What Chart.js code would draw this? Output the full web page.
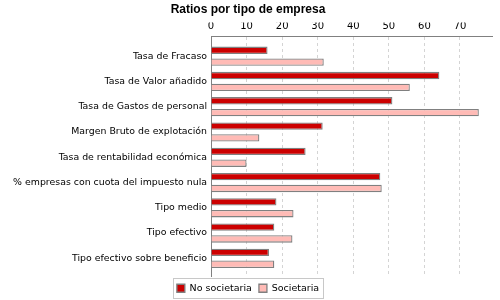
<!DOCTYPE html>
<html><head><meta charset="utf-8">
<script src="https://cdn.jsdelivr.net/npm/chart.js@4/dist/chart.umd.min.js"></script>
<style>html,body{margin:0;padding:0;background:#fff}</style>
</head><body>
<canvas id="c" width="500" height="300"></canvas>
<script>
const categories = [
  'Tasa de Fracaso',
  'Tasa de Valor añadido',
  'Tasa de Gastos de personal',
  'Margen Bruto de explotación',
  'Tasa de rentabilidad económica',
  '% empresas con cuota del impuesto nula',
  'Tipo medio',
  'Tipo efectivo',
  'Tipo efectivo sobre beneficio'
];
const noSocietaria = [15.9, 64.2, 51.0, 31.4, 26.6, 47.6, 18.4, 17.8, 16.3];
const societaria   = [31.7, 55.9, 75.3, 13.6, 10.0, 48.0, 23.2, 22.9, 17.8];
const seriesNames = ['No societaria', 'Societaria'];
const chartTitle = 'Ratios por tipo de empresa';

const legendBox = {
  id: 'legendBox',
  afterDraw(chart) {
    const hb = chart.legend && chart.legend.legendHitBoxes;
    if (!hb || !hb.length) return;
    let l = Infinity, r = -Infinity, t = Infinity, b = -Infinity;
    hb.forEach(h => { l = Math.min(l, h.left); r = Math.max(r, h.left + h.width); t = Math.min(t, h.top); b = Math.max(b, h.top + h.height); });
    const ctx = chart.ctx;
    ctx.save();
    ctx.strokeStyle = '#c8c8c8';
    ctx.lineWidth = 1;
    ctx.strokeRect(Math.round(l - 4) + 0.5, Math.round(t - 6) + 0.5, Math.round(r - l + 8), Math.round(b - t + 10));
    ctx.restore();
  }
};

const font = "'DejaVu Sans', sans-serif";
new Chart(document.getElementById('c'), {
  type: 'bar',
  data: {
    labels: categories,
    datasets: [
      { label: seriesNames[0], data: noSocietaria.map((v, i) => ({ x: v, y: i })), backgroundColor: '#cc0000', borderColor: '#808080', borderWidth: 1.3 },
      { label: seriesNames[1], data: societaria.map((v, i) => ({ x: v, y: i })), backgroundColor: '#ffbbb6', borderColor: '#808080', borderWidth: 1.3 }
    ]
  },
  options: {
    indexAxis: 'y',
    responsive: false,
    animation: false,
    categoryPercentage: 0.94,
    barPercentage: 0.62,
    layout: { padding: { left: 4, right: 8, top: 0, bottom: -3 } },
    scales: {
      x: {
        position: 'top',
        min: 0, max: 79,
        ticks: { stepSize: 10, includeBounds: false, padding: 4, color: '#000', font: { family: font, size: 10 } },
        grid: { color: '#d4d4d4', drawTicks: false },
        border: { display: true, color: '#808080', dash: [3, 3] },
        afterFit(s) { s.height = 36 - 22.4; }
      },
      y: {
        type: 'linear',
        reverse: true,
        offset: false,
        min: -0.8, max: 8.72,
        afterBuildTicks(s) { s.ticks = categories.map((_, i) => ({ value: i })); },
        ticks: { padding: 4, color: '#000', font: { family: font, size: 9.4 }, callback: (v) => categories[v] },
        grid: { display: false, drawTicks: false },
        border: { display: true, color: '#808080' },
        afterFit(s) { s.width = 207; }
      }
    },
    plugins: {
      title: { display: true, text: chartTitle, color: '#000', font: { family: "'Liberation Sans', Arial, sans-serif", size: 12, weight: 'bold' }, padding: { top: 2, bottom: 6 } },
      legend: { position: 'bottom', labels: { boxWidth: 8, boxHeight: 8, padding: 7, color: '#000', font: { family: font, size: 9.5 } } },
      tooltip: { enabled: false }
    }
  },
  plugins: [legendBox]
});
</script>
</body></html>
